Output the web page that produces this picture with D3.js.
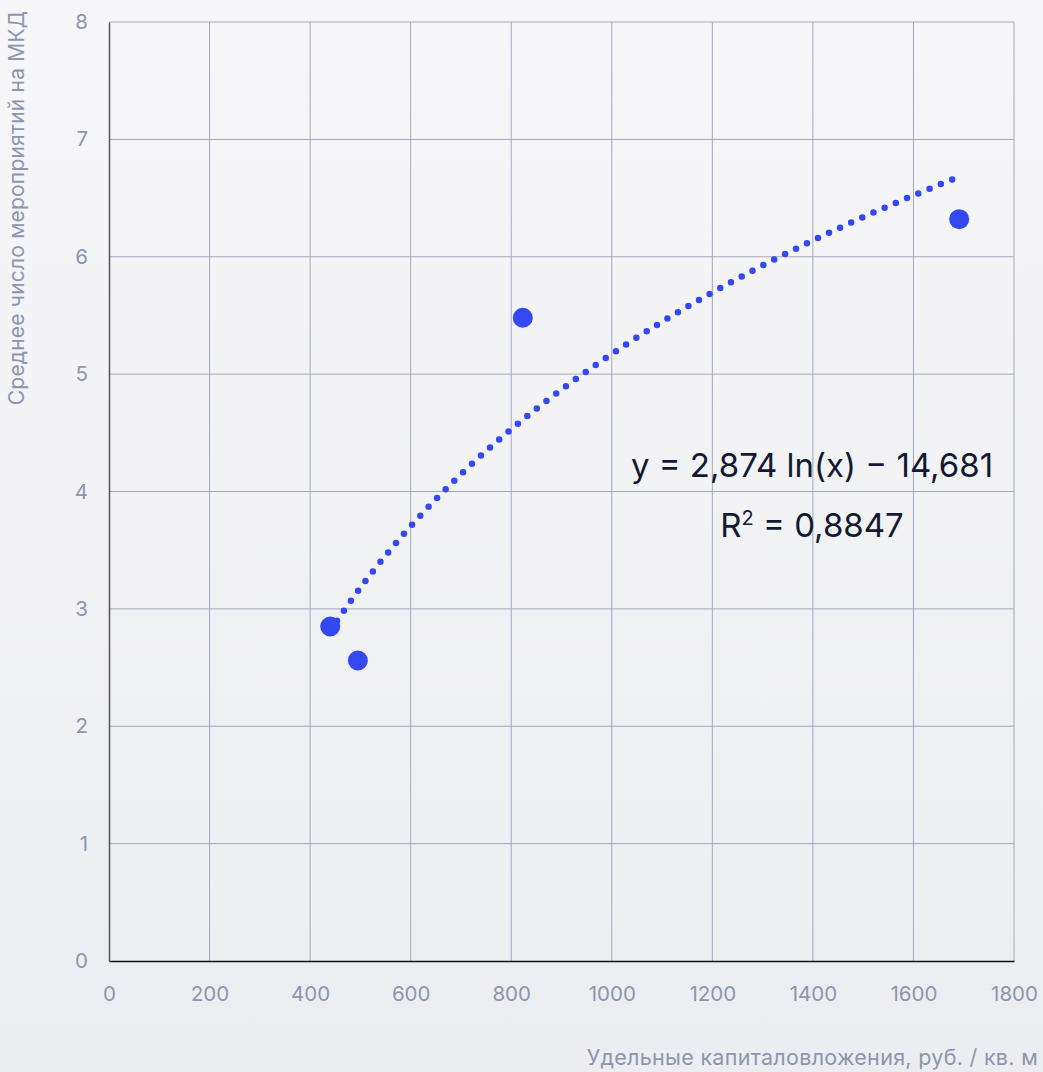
<!DOCTYPE html>
<html>
<head>
<meta charset="utf-8">
<script src="https://cdn.jsdelivr.net/npm/d3@7"></script>
<style>
html,body{margin:0;padding:0;}
body{width:1043px;height:1072px;overflow:hidden;font-family:Inter,"Noto Sans",sans-serif;}
</style>
</head>
<body>
<svg id="chart" width="1043" height="1072"></svg>
<script>
// points
var cost_values=[440,495,823,1691];
var events_values=[2.85,2.56,5.48,6.32];
var x_ticks=[0,200,400,600,800,1000,1200,1400,1600,1800];
var y_ticks=[0,1,2,3,4,5,6,7,8];
// trendline as printed on the chart
var trend_a=2.874;
var trend_b=-14.681;
var trend_range=[440,1678];
var eq_label="y = 2,874 ln(x) − 14,681";
var r2_value="0,8847";

var width=1043, height=1072;
var left_x=109, right_x=1014, top_y=22, bottom_y=961;
var blue="#3448f2";
var tick_color="#8d95b0";
var grid_color="#a3a7bb";

var svg=d3.select("#chart");

var defs=svg.append("defs");
var grad=defs.append("linearGradient").attr("id","bg").attr("x1",0).attr("y1",0).attr("x2",0).attr("y2",1);
grad.append("stop").attr("offset","0%").attr("stop-color","#f7f7f9");
grad.append("stop").attr("offset","100%").attr("stop-color","#ecedf0");
svg.append("rect").attr("width",width).attr("height",height).attr("fill","url(#bg)");

var x=d3.scaleLinear().domain([0,1800]).range([left_x,right_x]);
var y=d3.scaleLinear().domain([0,8]).range([bottom_y,top_y]);

// grid
svg.append("g").selectAll("line").data(x_ticks.slice(1)).enter().append("line")
	.attr("x1",function(d){return x(d);}).attr("x2",function(d){return x(d);})
	.attr("y1",top_y).attr("y2",bottom_y)
	.attr("stroke",grid_color).attr("stroke-width",1);
svg.append("g").selectAll("line").data(y_ticks.slice(1)).enter().append("line")
	.attr("x1",left_x).attr("x2",right_x)
	.attr("y1",function(d){return y(d);}).attr("y2",function(d){return y(d);})
	.attr("stroke",grid_color).attr("stroke-width",1);

// axes
var xAxis=svg.append("g").attr("transform","translate(0,"+bottom_y+")")
	.call(d3.axisBottom(x).tickValues(x_ticks).tickSize(0).tickPadding(25).tickFormat(d3.format("d")));
xAxis.select(".domain").attr("stroke","#111").attr("stroke-width",1.5);
var yAxis=svg.append("g").attr("transform","translate("+left_x+",0)")
	.call(d3.axisLeft(y).tickValues(y_ticks).tickSize(0).tickPadding(21));
yAxis.select(".domain").attr("stroke","#555").attr("stroke-width",1.5);
svg.selectAll(".tick text").attr("fill",tick_color).attr("font-size",20.5).attr("font-family","Inter,'Noto Sans',sans-serif");
yAxis.selectAll(".tick text").attr("dy","0.32em");

// axis titles
svg.append("text").attr("x",1038).attr("y",1065).attr("text-anchor","end")
	.attr("fill",tick_color).attr("font-size",21.5).attr("letter-spacing",0.3).text("Удельные капиталовложения, руб. / кв. м");
svg.append("text").attr("transform","translate(24,208) rotate(-90)").attr("text-anchor","middle")
	.attr("fill",tick_color).attr("font-size",21).attr("letter-spacing",0.2).text("Среднее число мероприятий на МКД");

// trendline
var trend_pts=d3.range(0,201).map(function(i){
	var xv=trend_range[0]+(trend_range[1]-trend_range[0])*i/200;
	return [xv,trend_a*Math.log(xv)+trend_b];
});
svg.append("path").datum(trend_pts)
	.attr("d",d3.line().x(function(d){return x(d[0]);}).y(function(d){return y(d[1]);}))
	.attr("fill","none").attr("stroke",blue).attr("stroke-width",6.5)
	.attr("stroke-linecap","round").attr("stroke-dasharray","0 12.2");

// points
svg.append("g").selectAll("circle").data(cost_values).enter().append("circle")
	.attr("cx",function(d){return x(d);})
	.attr("cy",function(d,i){return y(events_values[i]);})
	.attr("r",10).attr("fill",blue);

// equation
svg.append("text").attr("x",812).attr("y",477).attr("text-anchor","middle")
	.attr("fill","#121a33").attr("font-size",33).text(eq_label);
var r2=svg.append("text").attr("x",812).attr("y",537).attr("text-anchor","middle")
	.attr("fill","#121a33").attr("font-size",33);
r2.append("tspan").text("R");
r2.append("tspan").attr("font-size",20).attr("dy",-12).text("2");
r2.append("tspan").attr("dy",12).text(" = "+r2_value);
</script>
</body>
</html>
